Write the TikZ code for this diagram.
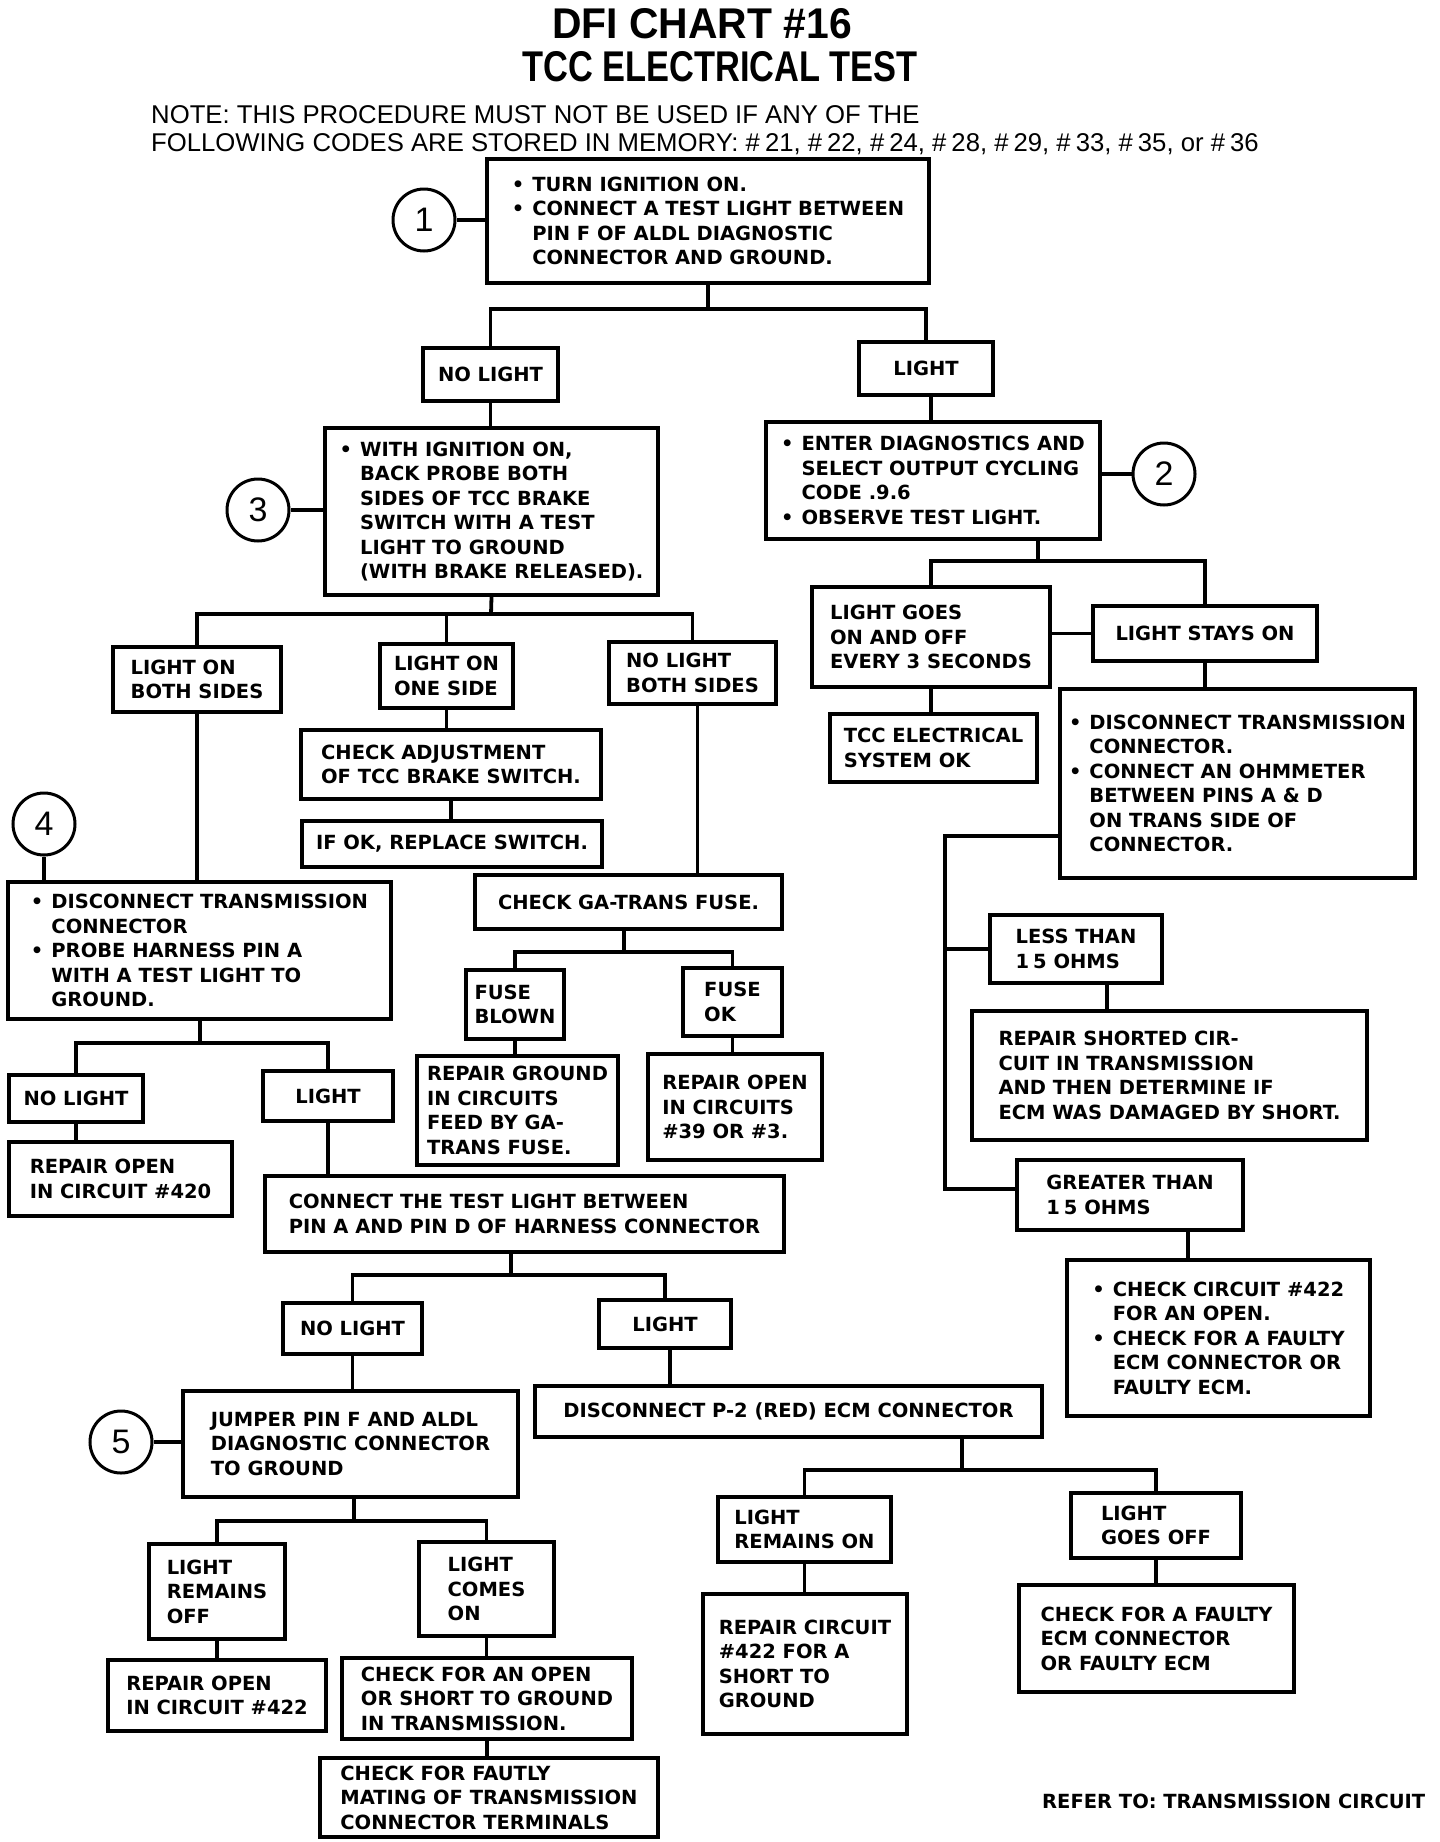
\documentclass[tikz,border=0pt]{standalone}
\usepackage{fontspec}
\usepackage{graphicx}
\newfontfamily\bodyfont{DejaVu Sans}
\newfontfamily\titlefont{Liberation Sans}
\newfontfamily\notefont{Liberation Sans}
\newcommand\bul{\makebox[1.05em][l]{\textbullet}}
\newcommand\hang{\hspace*{1.05em}}
\newcommand\hs{\#\kern5pt}
\tikzset{
  bx/.style={draw, line width=3.8pt, inner sep=0pt, align=left,
    font=\bodyfont\bfseries\fontsize{19.5}{24.5}\selectfont},
  num/.style={draw, circle, line width=3pt, minimum size=62pt, inner sep=0pt,
    font=\notefont\fontsize{34}{34}\selectfont},
  cn/.style={line width=3.8pt},
  ttl/.style={font=\titlefont\bfseries\fontsize{43}{43}\selectfont, inner sep=0pt},
  nt/.style={font=\notefont\fontsize{25.7}{26}\selectfont, inner sep=0pt},
}
\begin{document}
\begin{tikzpicture}[x=1pt,y=-1pt]
\useasboundingbox (0,0) rectangle (1440,1842);
\clip (0,0) rectangle (1440,1842);

% ---- titles
\node[ttl, anchor=base] (t1) at (702,38) {\scalebox{0.95}[1]{DFI CHART \#16}};
\node[ttl, anchor=base] (t2) at (720,81) {\scalebox{0.80}[1]{TCC ELECTRICAL TEST}};
\node[nt, anchor=base west] (n1) at (151,123) {NOTE: THIS PROCEDURE MUST NOT BE USED IF ANY OF THE};
\node[nt, anchor=base west] (n2) at (151,151) {FOLLOWING CODES ARE STORED IN MEMORY: \hs21, \hs22, \hs24, \hs28, \hs29, \hs33, \hs35, or \hs36};

% ---- top
\node[num] (c1) at (424,220) {1};
\node[bx, minimum width=442pt, minimum height=124pt] (b1) at (708,221)
  {\bul TURN IGNITION ON.\\ \bul CONNECT A TEST LIGHT BETWEEN\\ \hang PIN F OF ALDL DIAGNOSTIC\\ \hang CONNECTOR AND GROUND.};
\node[bx, minimum width=135pt, minimum height=53pt] (nl1) at (490.5,374.5) {NO LIGHT};
\node[bx, minimum width=134pt, minimum height=53pt] (l1) at (926,368.5) {LIGHT};

\node[num] (c3) at (258,510) {3};
\node[bx, minimum width=333pt, minimum height=167pt] (b3) at (491.5,511.5)
  {\bul WITH IGNITION ON,\\ \hang BACK PROBE BOTH\\ \hang SIDES OF TCC BRAKE\\ \hang SWITCH WITH A TEST\\ \hang LIGHT TO GROUND\\ \hang (WITH BRAKE RELEASED).};

\node[num] (c2) at (1164,474) {2};
\node[bx, minimum width=334pt, minimum height=117pt] (b2) at (933,480.5)
  {\bul ENTER DIAGNOSTICS AND\\ \hang SELECT OUTPUT CYCLING\\ \hang CODE .9.6\\ \bul OBSERVE TEST LIGHT.};

% ---- right upper
\node[bx, minimum width=238pt, minimum height=100pt] (lg) at (931,637) {LIGHT GOES\\ ON AND OFF\\ EVERY 3 SECONDS};
\node[bx, minimum width=224pt, minimum height=55pt] (lso) at (1205,633.5) {LIGHT STAYS ON};
\node[bx, minimum width=207pt, minimum height=68pt] (tcc) at (933.5,748) {TCC ELECTRICAL\\ SYSTEM OK};
\node[bx, minimum width=355pt, minimum height=189pt] (r1) at (1237.5,783.5)
  {\bul DISCONNECT TRANSMISSION\\ \hang CONNECTOR.\\ \bul CONNECT AN OHMMETER\\ \hang BETWEEN PINS A \& D\\ \hang ON TRANS SIDE OF\\ \hang CONNECTOR.};
\node[bx, minimum width=172pt, minimum height=68pt] (lt15) at (1076,949) {LESS THAN\\ 1\kern4pt5 OHMS};
\node[bx, minimum width=395pt, minimum height=129pt] (rs) at (1169.5,1075.5)
  {REPAIR SHORTED CIR-\\ CUIT IN TRANSMISSION\\ AND THEN DETERMINE IF\\ ECM WAS DAMAGED BY SHORT.};
\node[bx, minimum width=226pt, minimum height=70pt] (gt15) at (1130,1195) {GREATER THAN\\ 1\kern4pt5 OHMS};
\node[bx, minimum width=303pt, minimum height=156pt] (cc) at (1218.5,1338)
  {\bul CHECK CIRCUIT \#422\\ \hang FOR AN OPEN.\\ \bul CHECK FOR A FAULTY\\ \hang ECM CONNECTOR OR\\ \hang FAULTY ECM.};

% ---- middle left
\node[bx, minimum width=168pt, minimum height=65pt] (lob) at (197,679.5) {LIGHT ON\\ BOTH SIDES};
\node[bx, minimum width=133pt, minimum height=64pt] (los) at (446.5,676) {LIGHT ON\\ ONE SIDE};
\node[bx, minimum width=167pt, minimum height=62pt] (nlb) at (692.5,673) {NO LIGHT\\ BOTH SIDES};
\node[bx, minimum width=300pt, minimum height=69pt] (ca) at (451,764.5) {CHECK ADJUSTMENT\\ OF TCC BRAKE SWITCH.};
\node[bx, minimum width=300pt, minimum height=46pt] (ifok) at (452,844) {IF OK, REPLACE SWITCH.};
\node[bx, minimum width=307pt, minimum height=54pt] (ga) at (628.5,902) {CHECK GA-TRANS FUSE.};
\node[bx, minimum width=98pt, minimum height=69pt] (fb) at (515,1004.5) {FUSE\\ BLOWN};
\node[bx, minimum width=99pt, minimum height=68pt] (fok) at (732.5,1002) {FUSE\\ OK};
\node[bx, minimum width=201pt, minimum height=109pt] (rg) at (517.5,1110.5) {REPAIR GROUND\\ IN CIRCUITS\\ FEED BY GA-\\ TRANS FUSE.};
\node[bx, minimum width=174pt, minimum height=106pt] (ro39) at (735,1107) {REPAIR OPEN\\ IN CIRCUITS\\ \#39 OR \#3.};

\node[num] (c4) at (44,824) {4};
\node[bx, minimum width=383pt, minimum height=137pt] (b4) at (199.5,950.5)
  {\bul DISCONNECT TRANSMISSION\\ \hang CONNECTOR\\ \bul PROBE HARNESS PIN A\\ \hang WITH A TEST LIGHT TO\\ \hang GROUND.};
\node[bx, minimum width=134pt, minimum height=47pt] (nl4) at (76,1098.5) {NO LIGHT};
\node[bx, minimum width=130pt, minimum height=50pt] (l4) at (328,1096) {LIGHT};
\node[bx, minimum width=223pt, minimum height=74pt] (ro420) at (120.5,1179) {REPAIR OPEN\\ IN CIRCUIT \#420};
\node[bx, minimum width=519pt, minimum height=76pt] (ct) at (524.5,1214) {CONNECT THE TEST LIGHT BETWEEN\\ PIN A AND PIN D OF HARNESS CONNECTOR};

% ---- bottom
\node[bx, minimum width=139pt, minimum height=51pt] (nl5) at (352.5,1328.5) {NO LIGHT};
\node[bx, minimum width=132pt, minimum height=48pt] (l5) at (665,1324) {LIGHT};
\node[num] (c5) at (121,1442) {5};
\node[bx, minimum width=335pt, minimum height=106pt] (b5) at (350.5,1444) {JUMPER PIN F AND ALDL\\ DIAGNOSTIC CONNECTOR\\ TO GROUND};
\node[bx, minimum width=136pt, minimum height=95pt] (lro) at (217,1591.5) {LIGHT\\ REMAINS\\ OFF};
\node[bx, minimum width=135pt, minimum height=94pt] (lco) at (486.5,1589) {LIGHT\\ COMES\\ ON};
\node[bx, minimum width=218pt, minimum height=71pt] (ro422) at (217,1695.5) {REPAIR OPEN\\ IN CIRCUIT \#422};
\node[bx, minimum width=290pt, minimum height=81pt] (cfo) at (487,1698.5) {CHECK FOR AN OPEN\\ OR SHORT TO GROUND\\ IN TRANSMISSION.};
\node[bx, minimum width=338pt, minimum height=79pt] (cff) at (489,1797.5) {CHECK FOR FAUTLY\\ MATING OF TRANSMISSION\\ CONNECTOR TERMINALS};
\node[bx, minimum width=507pt, minimum height=51pt] (p2) at (788.5,1411.5) {DISCONNECT P-2 (RED) ECM CONNECTOR};
\node[bx, minimum width=173pt, minimum height=65pt] (lron) at (804.5,1529.5) {LIGHT\\ REMAINS ON};
\node[bx, minimum width=204pt, minimum height=140pt] (rc) at (805,1664) {REPAIR CIRCUIT\\ \#422 FOR A\\ SHORT TO\\ GROUND};
\node[bx, minimum width=170pt, minimum height=65pt] (lgo) at (1156,1525.5) {LIGHT\\ GOES OFF};
\node[bx, minimum width=275pt, minimum height=107pt] (cfe) at (1156.5,1638.5) {CHECK FOR A FAULTY\\ ECM CONNECTOR\\ OR FAULTY ECM};

\node[font=\bodyfont\bfseries\fontsize{19.5}{24}\selectfont, anchor=base west, inner sep=0pt] (ref) at (1042,1808) {REFER TO: TRANSMISSION CIRCUIT};

% ---- junction points
\coordinate (j1) at (708,309);
\coordinate (j2) at (1038,561);
\coordinate (j3) at (491,614);
\coordinate (j4) at (624,952);
\coordinate (j5) at (200,1043);
\coordinate (j6) at (511,1275);
\coordinate (j7) at (354,1521);
\coordinate (j8) at (962,1470);
\coordinate (v1) at (945,836);

% ---- connectors
\draw[cn] (c1.east) -- (c1.east -| b1.west);
\draw[cn] (b1.south) -- (j1);
\draw[cn] (nl1.north) |- (j1) -| (l1.north);
\draw[cn] (nl1.south) -- (nl1.south |- b3.north);
\draw[cn] (c3.east) -- (c3.east -| b3.west);
\draw[cn] ([xshift=5pt]l1.south) -- ([xshift=5pt]l1.south |- b2.north);
\draw[cn] (c2.west) -- (c2.west -| b2.east);
\draw[cn] (j2 |- b2.south) -- (j2);
\draw[cn] (lg.north) |- (j2) -| (lso.north);
\draw[cn] (lso.west) -- (lso.west -| lg.east);
\draw[cn] (lg.south) -- (lg.south |- tcc.north);
\draw[cn] (lso.south) -- (lso.south |- r1.north);
\draw[cn] (r1.west |- v1) -- (v1) |- ([yshift=6pt]gt15.west);
\draw[cn] (v1 |- lt15.west) -- (lt15.west);
\draw[cn] ([xshift=31pt]lt15.south) -- ([xshift=31pt]lt15.south |- rs.north);
\draw[cn] ([xshift=58pt]gt15.south) -- ([xshift=58pt]gt15.south |- cc.north);

\draw[cn] (b3.south) -- (j3);
\draw[cn] (lob.north) |- (j3) -| (nlb.north);
\draw[cn] (los.north) -- (los.north |- j3);
\draw[cn] (los.south) -- (los.south |- ca.north);
\draw[cn] (ca.south) -- (ca.south |- ifok.north);
\draw[cn] ([xshift=5pt]nlb.south) -- ([xshift=5pt]nlb.south |- ga.north);
\draw[cn] (j4 |- ga.south) -- (j4);
\draw[cn] (fb.north) |- (j4) -| (fok.north);
\draw[cn] (fb.south) -- (fb.south |- rg.north);
\draw[cn] (fok.south) -- (fok.south |- ro39.north);

\draw[cn] (lob.south) -- (lob.south |- b4.north);
\draw[cn] (c4.south) -- (c4.south |- b4.north);
\draw[cn] (j5 |- b4.south) -- (j5);
\draw[cn] (nl4.north) |- (j5) -| (l4.north);
\draw[cn] (nl4.south) -- (nl4.south |- ro420.north);
\draw[cn] (l4.south) -- (l4.south |- ct.north);
\draw[cn] (j6 |- ct.south) -- (j6);
\draw[cn] (nl5.north) |- (j6) -| (l5.north);
\draw[cn] (nl5.south) -- (nl5.south |- b5.north);
\draw[cn] (c5.east) -- (c5.east -| b5.west);
\draw[cn] (j7 |- b5.south) -- (j7);
\draw[cn] (lro.north) |- (j7) -| (lco.north);
\draw[cn] (lro.south) -- (lro.south |- ro422.north);
\draw[cn] (lco.south) -- (lco.south |- cfo.north);
\draw[cn] (cfo.south) -- (cfo.south |- cff.north);
\draw[cn] ([xshift=5pt]l5.south) -- ([xshift=5pt]l5.south |- p2.north);
\draw[cn] (j8 |- p2.south) -- (j8);
\draw[cn] (lron.north) |- (j8) -| (lgo.north);
\draw[cn] (lron.south) -- (lron.south |- rc.north);
\draw[cn] (lgo.south) -- (lgo.south |- cfe.north);
\end{tikzpicture}
\end{document}
